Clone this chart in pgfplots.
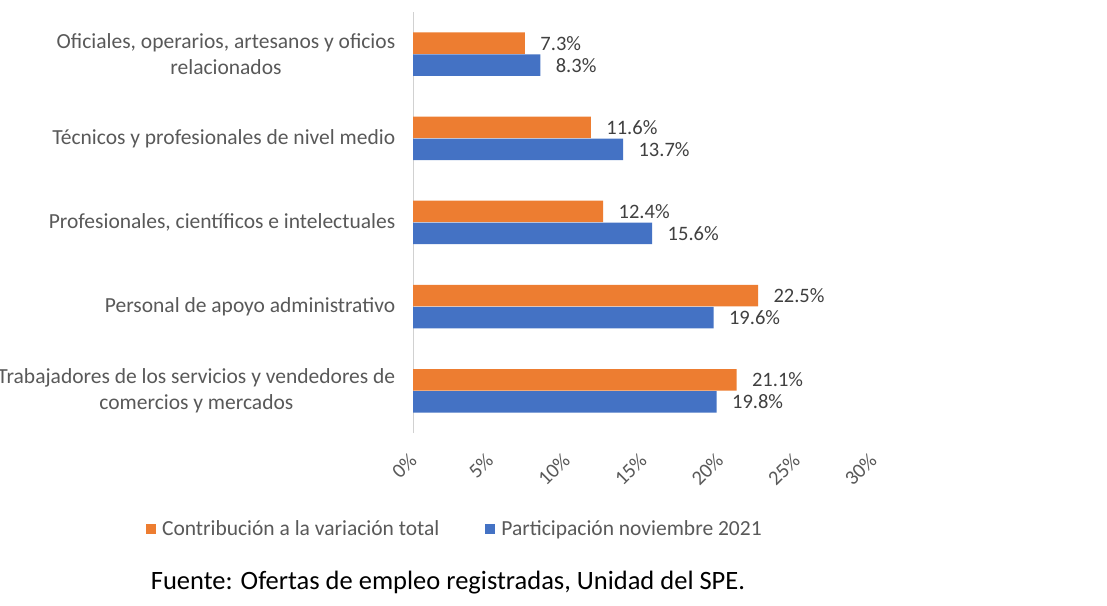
\documentclass[border=0pt]{standalone}
\usepackage{pgfplots}
\pgfplotsset{compat=1.18}
\usepackage{fontspec}
\setmainfont{Carlito}
\definecolor{cOrange}{HTML}{ED7D31}
\definecolor{cBlue}{HTML}{4472C4}
\definecolor{cLabel}{HTML}{595959}
\definecolor{cData}{HTML}{404040}
\begin{document}
\begin{tikzpicture}
\path[use as bounding box, fill=white] (0,0) rectangle (1107pt,605pt);
\begin{axis}[
  at={(413pt,172pt)}, anchor=south west,
  scale only axis, width=460pt, height=421pt,
  xmin=0, xmax=30, ymin=-0.5, ymax=4.5,
  xbar, bar width=21.5pt,
  axis x line*=bottom, axis y line*=left,
  x axis line style={draw=none},
  y axis line style={draw=black!18, line width=1pt},
  xtick={0,5,10,15,20,25,30},
  xticklabels={0\%,5\%,10\%,15\%,20\%,25\%,30\%},
  xtick style={draw=none}, ytick style={draw=none},
  ytick={0,1,2,3,4},
  yticklabels={{Trabajadores de los servicios y vendedores de\\comercios y mercados},
               {Personal de apoyo administrativo},
               {Profesionales, científicos e intelectuales},
               {Técnicos y profesionales de nivel medio},
               {Oficiales, operarios, artesanos y oficios\\relacionados}},
  yticklabel style={font=\fontsize{21.5pt}{26pt}\selectfont, text=cLabel, align=center, anchor=east, xshift=-10pt},
  xticklabel style={xshift=-5pt, yshift=-14pt, font=\fontsize{20.5pt}{24pt}\selectfont, text=cLabel, rotate=45, anchor=north east},
  nodes near coords={\pgfmathprintnumber[fixed,precision=1,fixed zerofill,assume math mode=true]{\pgfplotspointmeta}\%},
  nodes near coords style={font=\fontsize{20.5pt}{24pt}\selectfont, text=cData, anchor=west, xshift=12pt},
  legend style={at={(0.091,-0.228)}, anchor=center, draw=none, fill=none,
    legend columns=2, font=\fontsize{21.5pt}{24pt}\selectfont, text=cLabel,
    /tikz/every odd column/.append style={column sep=4pt},
    /tikz/every even column/.append style={column sep=44pt}},
  legend image code/.code={\fill[#1] (0pt,-5pt) rectangle (10pt,5pt);},
  clip=false,
]
\addplot[fill=cOrange, draw=none, bar shift=11pt] coordinates {(21.1,0) (22.5,1) (12.4,2) (11.6,3) (7.3,4)};
\addlegendentry{Contribución a la variación total}
\addplot[fill=cBlue, draw=none, bar shift=-11pt] coordinates {(19.8,0) (19.6,1) (15.6,2) (13.7,3) (8.3,4)};
\addlegendentry{Participación noviembre 2021}
\end{axis}
\node[font=\fontsize{26.5pt}{30pt}\selectfont, text=black] at (448pt,22pt) {Fuente: Ofertas de empleo registradas, Unidad del SPE.};
\end{tikzpicture}
\end{document}
